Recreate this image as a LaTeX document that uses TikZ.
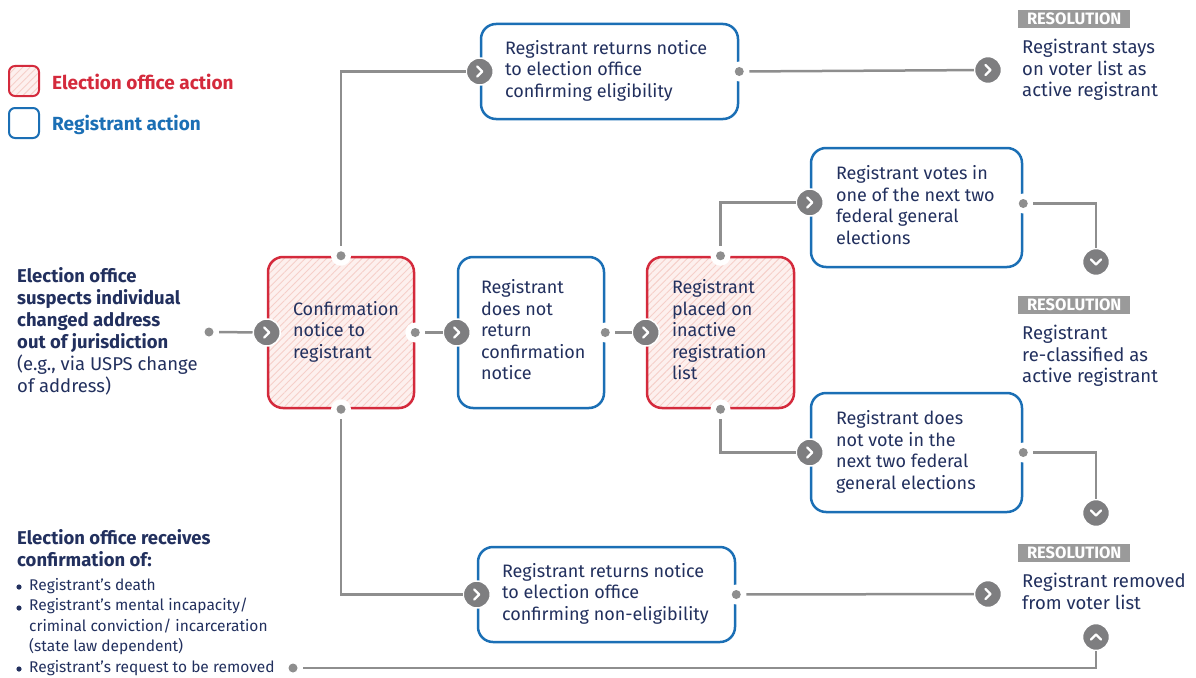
\documentclass[tikz,border=0pt]{standalone}
\usepackage{fontspec}
\setmainfont{Fira Sans}
\usetikzlibrary{patterns.meta}

\definecolor{navy}{HTML}{22305E}
\definecolor{eored}{HTML}{D42A3C}
\definecolor{rgblue}{HTML}{1B6FB5}
\definecolor{pinkbg}{HTML}{FDF0EE}
\definecolor{hatch}{HTML}{F6CFC9}
\definecolor{linegray}{HTML}{8E8E8E}
\definecolor{chevgray}{HTML}{7E7E80}
\definecolor{resgray}{HTML}{9A9A9A}

\newcommand{\boxfont}{\fontsize{18}{21.5}\selectfont}
\newcommand{\listfont}{\fontsize{15.5}{20.5}\selectfont}
% Zeilen linksbuendig in einer Box fester Breite
\newcommand{\boxtext}[2]{\makebox[#1][l]{\begin{tabular}{@{}l@{}}#2\end{tabular}}}

\tikzset{
  anybox/.style={rounded corners=15pt, line width=2.5pt,
    inner xsep=0pt, inner ysep=0pt, text=navy, font=\boxfont},
  ebox/.style={anybox, draw=eored, preaction={fill=pinkbg},
    pattern={Lines[angle=45,distance=5pt,line width=0.9pt]}, pattern color=hatch},
  rbox/.style={anybox, draw=rgblue, fill=white},
  conn/.style={draw=linegray, line width=2.5pt},
  dot/.style={circle, fill=white, inner sep=0pt, minimum size=20pt,
    path picture={\fill[linegray] (path picture bounding box.center) circle (4.5pt);}},
  chevbase/.style={circle, fill=chevgray, draw=white, line width=1.5pt,
    inner sep=0pt, minimum size=27pt},
  chevr/.style={chevbase, path picture={
    \draw[white, line width=2.3pt, line cap=round, line join=round]
      ([shift={(-2.5pt,5pt)}]path picture bounding box.center) --
      ([shift={(2.5pt,0pt)}]path picture bounding box.center) --
      ([shift={(-2.5pt,-5pt)}]path picture bounding box.center);}},
  chevd/.style={chevbase, path picture={
    \draw[white, line width=2.3pt, line cap=round, line join=round]
      ([shift={(-5pt,2.5pt)}]path picture bounding box.center) --
      ([shift={(0pt,-2.5pt)}]path picture bounding box.center) --
      ([shift={(5pt,2.5pt)}]path picture bounding box.center);}},
  chevu/.style={chevbase, path picture={
    \draw[white, line width=2.3pt, line cap=round, line join=round]
      ([shift={(-5pt,-2.5pt)}]path picture bounding box.center) --
      ([shift={(0pt,2.5pt)}]path picture bounding box.center) --
      ([shift={(5pt,-2.5pt)}]path picture bounding box.center);}},
  reslabel/.style={fill=resgray, text=white, font=\fontsize{16.5}{16.5}\selectfont\bfseries,
    minimum width=112pt, minimum height=18pt, inner sep=0pt, anchor=north west},
  restext/.style={text=navy, font=\fontsize{18.5}{21.5}\selectfont, align=left, inner sep=0pt, anchor=north west},
}

\begin{document}
\begin{tikzpicture}[x=1pt,y=-1pt]

	\useasboundingbox (0,0) rectangle (1196,677);

	% Legende
	\node[ebox, rounded corners=6pt, line width=2pt, minimum size=30pt] (leg-eo) at (24,81) {};
	\node[rbox, rounded corners=6pt, line width=2pt, minimum size=30pt] (leg-rg) at (24,123) {};
	\node[anchor=west, inner sep=0pt, text=eored, font=\fontsize{19}{22}\selectfont\bfseries] (leg-eo-t) at (52,82) {Election office action};
	\node[anchor=west, inner sep=0pt, text=rgblue, font=\fontsize{19}{22}\selectfont\bfseries] (leg-rg-t) at (52,125) {Registrant action};

	% Ausgangslagen links
	\node[anchor=north west, inner sep=0pt, align=left, text=navy, font=\fontsize{18.5}{22}\selectfont] (start) at (17,267)
		{\textbf{Election office}\\\textbf{suspects individual}\\\textbf{changed address}\\\textbf{out of jurisdiction}\\(e.g., via USPS change\\of address)};
	\node[anchor=north west, inner sep=0pt, align=left, text=navy, font=\fontsize{18.5}{22}\selectfont\bfseries] (recv) at (17,529)
		{Election office receives\\confirmation of:};
	\node[anchor=north west, inner sep=0pt, align=left, text=navy, font=\listfont] (list) at (29,578)
		{Registrant’s death\\Registrant’s mental incapacity/\\criminal conviction/ incarceration\\(state law dependent)\\Registrant’s request to be removed};

	% Aufzaehlungspunkte
	\foreach \y in {587,608,669}
		\fill[navy] (19,\y) circle (2.6pt);

	% Kaesten
	\node[ebox, minimum width=146pt, minimum height=151pt] (conf) at (341,332.5)
		{\boxtext{96pt}{Confirmation\\notice to\\registrant}};
	\node[rbox, minimum width=146pt, minimum height=151pt] (noret) at (531,332.5)
		{\boxtext{100pt}{Registrant\\does not\\return\\confirmation\\notice}};
	\node[ebox, minimum width=147pt, minimum height=151pt] (inact) at (720.5,332.5)
		{\boxtext{97pt}{Registrant\\placed on\\inactive\\registration\\list}};
	\node[rbox, minimum width=257pt, minimum height=95pt] (elig) at (609.5,71.5)
		{\boxtext{209pt}{Registrant returns notice\\to election office\\confirming eligibility}};
	\node[rbox, minimum width=211pt, minimum height=119pt] (votes) at (916.5,207.5)
		{\boxtext{161pt}{Registrant votes in\\one of the next two\\federal general\\elections}};
	\node[rbox, minimum width=211pt, minimum height=119pt] (novote) at (916.5,452.5)
		{\boxtext{161pt}{Registrant does\\not vote in the\\next two federal\\general elections}};
	\node[rbox, minimum width=257pt, minimum height=95pt] (nonelig) at (606.5,594.5)
		{\boxtext{209pt}{Registrant returns notice\\to election office\\confirming non-eligibility}};

	% Ergebnisse
	\node[reslabel] (res1) at (1018,10) {RESOLUTION};
	\node[restext] (res1-t) at (1022,39) {Registrant stays\\on voter list as\\active registrant};
	\node[reslabel] (res2) at (1018,296) {RESOLUTION};
	\node[restext] (res2-t) at (1022,325) {Registrant\\re-classified as\\active registrant};
	\node[reslabel] (res3) at (1018,544) {RESOLUTION};
	\node[restext] (res3-t) at (1022,573) {Registrant removed\\from voter list};

	% Punkte
	\node[dot] (d-start) at (209,332) {};
	\node[dot] (d-list) at (293,668) {};
	\node[dot] (d-conf-n) at (conf.north) {};
	\node[dot] (d-conf-s) at (conf.south) {};
	\node[dot] (d-conf-e) at (conf.east) {};
	\node[dot] (d-noret-e) at (noret.east) {};
	\node[dot] (d-inact-n) at (inact.north) {};
	\node[dot] (d-inact-s) at (inact.south) {};
	\node[dot] (d-elig-e) at (elig.east) {};
	\node[dot] (d-votes-e) at ([yshift=4pt]votes.east) {};
	\node[dot] (d-novote-e) at (novote.east) {};
	\node[dot] (d-nonelig-e) at (nonelig.east) {};

	% Pfeile
	\node[chevr] (c-conf) at (conf.west) {};
	\node[chevr] (c-noret) at (noret.west) {};
	\node[chevr] (c-inact) at (inact.west) {};
	\node[chevr] (c-elig) at (elig.west) {};
	\node[chevr] (c-votes) at ([yshift=5pt]votes.west) {};
	\node[chevr] (c-novote) at (novote.west) {};
	\node[chevr] (c-nonelig) at (nonelig.west) {};
	\node[chevr] (c-res1) at (988,70) {};
	\node[chevd] (c-res2) at (1096,262) {};
	\node[chevd] (c-res3) at (1096,513) {};
	\node[chevr] (c-res4) at (988,594) {};
	\node[chevu] (c-res5) at (1096,637) {};

	% Verbindungen
	\draw[conn] (d-start) -- (c-conf);
	\draw[conn] (d-conf-e) -- (c-noret);
	\draw[conn] (d-noret-e) -- (c-inact);
	\draw[conn] (d-conf-n) |- (c-elig);
	\draw[conn] (d-conf-s) |- (c-nonelig);
	\draw[conn] (d-inact-n) |- (c-votes);
	\draw[conn] (d-inact-s) |- (c-novote);
	\draw[conn] (d-elig-e) -- (c-res1);
	\draw[conn] (d-votes-e) -| (c-res2);
	\draw[conn] (d-novote-e) -| (c-res3);
	\draw[conn] (d-nonelig-e) -- (c-res4);
	\draw[conn] (d-list) -| (c-res5);

\end{tikzpicture}
\end{document}
